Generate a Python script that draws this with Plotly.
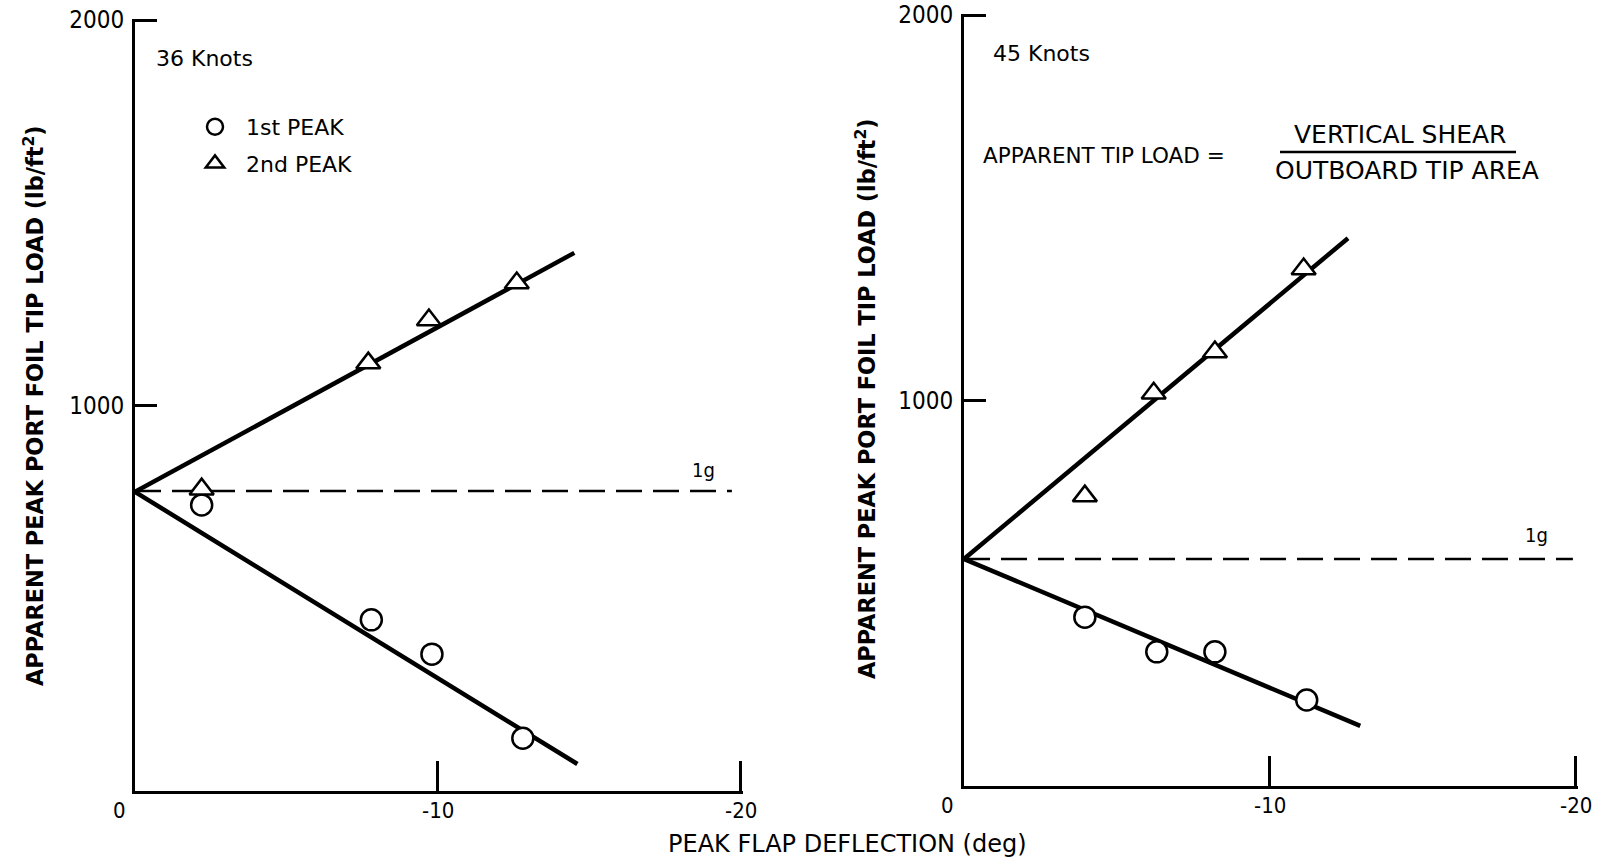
import plotly.graph_objects as go

# ---------------- 36 knots ----------------
defl_36_first = [-2.2, -7.8, -9.8, -12.8]
load_36_first = [742, 444, 355, 137]
defl_36_second = [-2.2, -7.7, -9.7, -12.6]
load_36_second = [783, 1110, 1222, 1318]
fit_36_defl_upper = [0, -14.5]
fit_36_load_upper = [776, 1396]
fit_36_defl_lower = [0, -14.6]
fit_36_load_lower = [776, 70]
one_g_defl_36 = [0, -19.7]
one_g_load_36 = [778, 778]

# ---------------- 45 knots ----------------
defl_45_first = [-3.95, -6.3, -8.2, -11.2]
load_45_first = [438, 348, 348, 223]
defl_45_second = [-3.95, -6.2, -8.2, -11.1]
load_45_second = [752, 1019, 1126, 1341]
fit_45_defl_upper = [0, -12.55]
fit_45_load_upper = [589, 1421]
fit_45_defl_lower = [0, -12.95]
fit_45_load_lower = [589, 156]
one_g_defl_45 = [0, -19.9]
one_g_load_45 = [589, 589]

# ---------------- axes ----------------
x_tick_vals = [0, -10, -20]
x_tick_text = ["0", "-10", "-20"]
y_tick_vals = [1000, 2000]
y_tick_text = ["1000", "2000"]

W, H = 1609, 862
INK = "black"
COND = "DejaVu Sans Condensed, DejaVu Sans, sans-serif"
SANS = "DejaVu Sans, sans-serif"

fig = go.Figure()

panels = [
    ("x", "y", defl_36_first, load_36_first, defl_36_second, load_36_second,
     fit_36_defl_upper, fit_36_load_upper, fit_36_defl_lower, fit_36_load_lower,
     one_g_defl_36, one_g_load_36, True),
    ("x2", "y2", defl_45_first, load_45_first, defl_45_second, load_45_second,
     fit_45_defl_upper, fit_45_load_upper, fit_45_defl_lower, fit_45_load_lower,
     one_g_defl_45, one_g_load_45, False),
]

for (xa, ya, d1, l1, d2, l2, fu_x, fu_y, fl_x, fl_y, g_x, g_y, show) in panels:
    # fitted lines
    fig.add_trace(go.Scatter(x=fu_x, y=fu_y, mode="lines", xaxis=xa, yaxis=ya,
                             line=dict(color=INK, width=4.5), showlegend=False,
                             hoverinfo="skip"))
    fig.add_trace(go.Scatter(x=fl_x, y=fl_y, mode="lines", xaxis=xa, yaxis=ya,
                             line=dict(color=INK, width=4.5), showlegend=False,
                             hoverinfo="skip"))
    # 1g reference
    fig.add_trace(go.Scatter(x=g_x, y=g_y, mode="lines", xaxis=xa, yaxis=ya,
                             line=dict(color=INK, width=2.5, dash="26px,11px"),
                             showlegend=False, hoverinfo="skip"))
    # measured peaks
    fig.add_trace(go.Scatter(x=d1, y=l1, mode="markers", xaxis=xa, yaxis=ya,
                             name="1st PEAK", legendgroup="a", showlegend=show,
                             marker=dict(symbol="circle", size=21, color="white",
                                         line=dict(color=INK, width=2.5))))
    fig.add_trace(go.Scatter(x=d2, y=l2, mode="markers", xaxis=xa, yaxis=ya,
                             name="2nd PEAK", legendgroup="b", showlegend=show,
                             marker=dict(symbol="triangle-up", size=21, color="white",
                                         line=dict(color=INK, width=2.5))))

axis_common = dict(showgrid=False, zeroline=False, showline=True, linecolor=INK,
                   linewidth=3, ticks="inside", tickcolor=INK, tickwidth=3,
                   automargin=False, ticklabeloverflow="allow")

# ranges run a hair past the last tick so the end ticks are kept
X_RANGE = [0, -20.06]
Y_RANGE = [0, 2004]
xdom = {"x": [135 / W, 742.8 / W], "x2": [964 / W, 1577.8 / W]}
ydom = {"y": [1 - 791 / H, 1 - 18.5 / H], "y2": [1 - 786 / H, 1 - 13.5 / H]}

tickfont = dict(family=COND, size=22, color=INK)
ytickfont = dict(family=COND, size=24, color=INK)

fig.update_layout(
    width=W, height=H,
    margin=dict(l=0, r=0, t=0, b=0, pad=0, autoexpand=False),
    paper_bgcolor="white", plot_bgcolor="white",
    showlegend=True,
    legend=dict(x=184 / W, y=1 - 106 / H, xanchor="left", yanchor="top",
                bgcolor="rgba(0,0,0,0)", traceorder="grouped", tracegroupgap=5,
                itemwidth=52, font=dict(family=SANS, size=22, color=INK)),
    xaxis=dict(domain=xdom["x"], range=X_RANGE, anchor="y",
               tickvals=x_tick_vals[1:], ticklen=30, showticklabels=False, **axis_common),
    yaxis=dict(domain=ydom["y"], range=Y_RANGE, anchor="x",
               tickvals=y_tick_vals, ticktext=y_tick_text, ticklen=22,
               ticklabelstandoff=3, tickfont=ytickfont, **axis_common),
    xaxis2=dict(domain=xdom["x2"], range=X_RANGE, anchor="y2",
                tickvals=x_tick_vals[1:], ticklen=30, showticklabels=False, **axis_common),
    yaxis2=dict(domain=ydom["y2"], range=Y_RANGE, anchor="x2",
                tickvals=y_tick_vals, ticktext=y_tick_text, ticklen=22,
                ticklabelstandoff=3, tickfont=ytickfont, **axis_common),
)

ann = []
# x tick labels for both panels
for xa, ya in (("x", "y"), ("x2", "y2")):
    for v, t in zip(x_tick_vals, x_tick_text):
        ann.append(dict(x=v, y=0, xref=xa, yref=ya, text=t, showarrow=False,
                        xanchor="center", yanchor="top", yshift=-5,
                        xshift=-16 if v == 0 else 0, font=tickfont))

# 1g labels
ann.append(dict(x=-18.75, y=one_g_load_36[0] + 55, xref="x", yref="y", text="1g",
                showarrow=False, font=dict(family=COND, size=20, color=INK)))
ann.append(dict(x=-18.7, y=one_g_load_45[0] + 62, xref="x2", yref="y2", text="1g",
                showarrow=False, font=dict(family=COND, size=20, color=INK)))

# panel speed labels
ann.append(dict(x=154 / W, y=1 - 58.5 / H, xref="paper", yref="paper", text="36 Knots",
                xanchor="left", yanchor="middle", showarrow=False,
                font=dict(family=SANS, size=22, color=INK)))
ann.append(dict(x=991 / W, y=1 - 53.4 / H, xref="paper", yref="paper", text="45 Knots",
                xanchor="left", yanchor="middle", showarrow=False,
                font=dict(family=SANS, size=22, color=INK)))

# definition of apparent tip load
ann.append(dict(x=981 / W, y=1 - 156 / H, xref="paper", yref="paper",
                text="APPARENT TIP LOAD =", xanchor="left", yanchor="middle",
                showarrow=False, font=dict(family=SANS, size=21.5, color=INK)))
ann.append(dict(x=1400 / W, y=1 - 134.5 / H, xref="paper", yref="paper",
                text="VERTICAL SHEAR", xanchor="center", yanchor="middle",
                showarrow=False, font=dict(family=SANS, size=25, color=INK)))
ann.append(dict(x=1407 / W, y=1 - 170.5 / H, xref="paper", yref="paper",
                text="OUTBOARD TIP AREA", xanchor="center", yanchor="middle",
                showarrow=False, font=dict(family=SANS, size=25, color=INK)))

# axis titles
ytitle = "APPARENT PEAK PORT FOIL TIP LOAD (lb/ft<sup>2</sup>)"
ann.append(dict(x=34 / W, y=1 - 406 / H, xref="paper", yref="paper", text=ytitle,
                textangle=-90, xanchor="center", yanchor="middle", showarrow=False,
                font=dict(family=SANS, size=22.4, color=INK, weight="bold")))
ann.append(dict(x=865 / W, y=1 - 399 / H, xref="paper", yref="paper", text=ytitle,
                textangle=-90, xanchor="center", yanchor="middle", showarrow=False,
                font=dict(family=SANS, size=22.4, color=INK, weight="bold")))
ann.append(dict(x=847.5 / W, y=1 - 843.5 / H, xref="paper", yref="paper",
                text="PEAK FLAP DEFLECTION (deg)", xanchor="center", yanchor="middle",
                showarrow=False, font=dict(family=SANS, size=24, color=INK)))

fig.update_layout(annotations=ann)

# fraction bar
fig.add_shape(type="line", xref="paper", yref="paper", x0=1280 / W, x1=1516 / W,
              y0=1 - 152 / H, y1=1 - 152 / H, line=dict(color=INK, width=2.5))

fig.write_html("out.html")
